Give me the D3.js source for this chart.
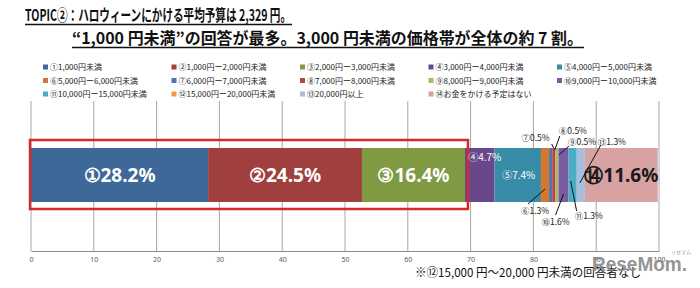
<!DOCTYPE html>
<html>
<head>
<meta charset="utf-8">
<script src="https://cdn.jsdelivr.net/npm/d3@7/dist/d3.min.js"></script>
<style>
  body { margin: 0; background: #fff; }
  svg { display: block; font-family: "Noto Sans CJK JP", "Noto Sans", sans-serif; }
</style>
</head>
<body>
<div id="chart"></div>
<script>
// answers, in legend order
const marks = ['①','②','③','④','⑤','⑥','⑦','⑧','⑨','⑩','⑪','⑫','⑬','⑭'];
const categories = [
  '1,000円未満', '1,000円ー2,000円未満', '2,000円ー3,000円未満', '3,000円ー4,000円未満', '4,000円ー5,000円未満',
  '5,000円ー6,000円未満', '6,000円ー7,000円未満', '7,000円ー8,000円未満', '8,000円ー9,000円未満', '9,000円ー10,000円未満',
  '10,000円ー15,000円未満', '15,000円ー20,000円未満', '20,000円以上', 'お金をかける予定はない'
];
const values = [28.2, 24.5, 16.4, 4.7, 7.4, 1.3, 0.5, 0.5, 0.5, 1.6, 1.3, 0, 1.3, 11.6];
const colors = ['#3d6898', '#a0403e', '#7f9a42', '#68488a', '#378ca8', '#d4782e', '#4d76b0',
                '#b84540', '#a7b968', '#7c5ca0', '#4bacc6', '#f79646', '#a8bedd', '#d8a2a2'];
const tickValues = [0, 10, 20, 30, 40, 50, 60, 70, 80, 90, 100];

const width = 700, height = 288;

const svg = d3.select('#chart').append('svg')
  .attr('width', width)
  .attr('height', height);

// title
const title = svg.append('g').attr('fill', '#111');
title.append('text').attr('x', 25).attr('y', 21)
  .attr('font-size', 16).attr('font-weight', 'bold')
  .attr('textLength', 266).attr('lengthAdjust', 'spacingAndGlyphs')
  .text('TOPIC②：ハロウィーンにかける平均予算は 2,329 円。');
title.append('line').attr('x1', 25).attr('x2', 292).attr('y1', 24.5).attr('y2', 24.5)
  .attr('stroke', '#111').attr('stroke-width', 1.3);
title.append('text').attr('x', 72).attr('y', 44)
  .attr('font-size', 16).attr('font-weight', 'bold')
  .attr('textLength', 511).attr('lengthAdjust', 'spacingAndGlyphs')
  .text('“1,000 円未満”の回答が最多。3,000 円未満の価格帯が全体の約 7 割。');
title.append('line').attr('x1', 72).attr('x2', 584).attr('y1', 47.5).attr('y2', 47.5)
  .attr('stroke', '#111').attr('stroke-width', 1.3);

// scales
const x = d3.scaleLinear().domain([0, 100]).range([31, 659]);
const y = d3.scaleBand().domain(['全体']).range([121, 229]).padding(1 / 3);
const barTop = y('全体'), barBottom = barTop + y.bandwidth();
const axisY = 251;

// legend
const legend = svg.append('g').selectAll('g')
  .data(categories)
  .enter().append('g')
  .attr('transform', (d, i) => 'translate(' + (43 + (i % 5) * 128.5) + ',' + (67 + Math.floor(i / 5) * 13.5) + ')');
legend.append('rect')
  .attr('x', 0).attr('y', -2.5).attr('width', 5).attr('height', 5)
  .attr('fill', (d, i) => colors[i]);
legend.append('text')
  .attr('x', 7).attr('y', 3)
  .attr('font-size', 8).attr('fill', '#222')
  .text((d, i) => marks[i] + d);

// gridlines + axis
const grid = svg.append('g');
grid.selectAll('line')
  .data(tickValues)
  .enter().append('line')
  .attr('x1', d => x(d)).attr('x2', d => x(d))
  .attr('y1', 101).attr('y2', axisY)
  .attr('stroke', '#a6a6a6').attr('stroke-width', 1);

const axis = svg.append('g')
  .attr('transform', 'translate(0,' + axisY + ')')
  .call(d3.axisBottom(x).tickValues(tickValues).tickSize(0).tickPadding(6));
axis.select('.domain').attr('stroke', '#8c8c8c');
axis.selectAll('text').attr('font-size', 7).attr('fill', '#595959')
  .attr('font-family', 'Noto Sans, sans-serif');

// stacked segments
let acc = 0;
const segs = values.map((v, i) => {
  const s = { i: i, v: v, x0: acc, x1: acc + v };
  acc += v;
  return s;
});

svg.append('g').selectAll('rect')
  .data(segs.filter(d => d.v > 0))
  .enter().append('rect')
  .attr('x', d => x(d.x0))
  .attr('y', barTop)
  .attr('width', d => x(d.x1) - x(d.x0))
  .attr('height', y.bandwidth())
  .attr('fill', d => colors[d.i]);

// highlight frame around first three answers
svg.append('rect')
  .attr('x', x(0) - 1)
  .attr('y', barTop - 8)
  .attr('width', x(segs[2].x1) + 3 - (x(0) - 1))
  .attr('height', y.bandwidth() + 15)
  .attr('fill', 'none')
  .attr('stroke', '#d42a2a')
  .attr('stroke-width', 2.5);

const cx = i => x((segs[i].x0 + segs[i].x1) / 2);
const lab = i => marks[i] + values[i] + '%';

// big labels inside the bar
const big = [0, 1, 2, 13];
svg.append('g').selectAll('text')
  .data(big)
  .enter().append('text')
  .attr('x', d => cx(d))
  .attr('y', (barTop + barBottom) / 2 + 7)
  .attr('text-anchor', 'middle')
  .attr('font-size', 19).attr('font-weight', 'bold')
  .attr('font-family', 'Noto Sans, sans-serif')
  .attr('fill', d => d === 13 ? '#1a1a1a' : '#fff')
  .text(d => lab(d));

// smaller labels inside
svg.append('text').attr('x', cx(3) + 5).attr('y', barTop + 13)
  .attr('text-anchor', 'middle').attr('font-size', 10).attr('fill', '#fff')
  .text(lab(3));
svg.append('text').attr('x', cx(4) + 1).attr('y', (barTop + barBottom) / 2 + 4)
  .attr('text-anchor', 'middle').attr('font-size', 10).attr('fill', '#fff')
  .text(lab(4));

// callouts for the narrow segments: label offset and leader line offsets
const callouts = [
  { i: 5,  anchor: 'middle', tx: -10, ty: barBottom + 12, l: [-17, barBottom + 2, 0, barBottom - 13] },
  { i: 6,  anchor: 'end',    tx: -1,  ty: barTop - 7,     l: [1, barTop - 4, 3, barTop] },
  { i: 7,  anchor: 'start',  tx: 5,   ty: barTop - 14,    l: [6, barTop - 12, 1, barTop + 2] },
  { i: 8,  anchor: 'start',  tx: 11,  ty: barTop - 3,     l: [12, barTop - 2, 2, barTop + 7] },
  { i: 9,  anchor: 'start',  tx: -22, ty: barBottom + 23, l: [-8, barBottom + 13, 0, barBottom - 8] },
  { i: 10, anchor: 'start',  tx: 2,   ty: barBottom + 17, l: [4, barBottom + 9, -2, barTop + 33] },
  { i: 12, anchor: 'start',  tx: 17,  ty: barTop - 3,     l: [20, barTop - 3, -1, barTop + 35] }
];

const co = svg.append('g').selectAll('g')
  .data(callouts)
  .enter().append('g');
co.append('line')
  .attr('x1', d => cx(d.i) + d.l[0]).attr('y1', d => d.l[1])
  .attr('x2', d => cx(d.i) + d.l[2]).attr('y2', d => d.l[3])
  .attr('stroke', '#111').attr('stroke-width', 1);
co.append('text')
  .attr('x', d => cx(d.i) + d.tx).attr('y', d => d.ty)
  .attr('text-anchor', d => d.anchor)
  .attr('font-size', 8.5).attr('fill', '#222')
  .text(d => lab(d.i));

// footnote
svg.append('text').attr('x', 415).attr('y', 277)
  .attr('font-size', 12).attr('fill', '#111')
  .attr('textLength', 226).attr('lengthAdjust', 'spacingAndGlyphs')
  .text('※⑫15,000 円～20,000 円未満の回答者なし');

// watermark (sits over the corner like the source image)
const wm = svg.append('g').attr('fill', '#8a8a8a').attr('opacity', 0.9);
wm.append('text').attr('x', 592).attr('y', 271)
  .attr('font-size', 21).attr('font-weight', 'bold')
  .attr('font-family', 'Liberation Sans, sans-serif')
  .attr('textLength', 95).attr('lengthAdjust', 'spacingAndGlyphs')
  .text('ReseMom.');
wm.append('text').attr('x', 671).attr('y', 254)
  .attr('font-size', 5)
  .text('リセマム');
</script>
</body>
</html>
